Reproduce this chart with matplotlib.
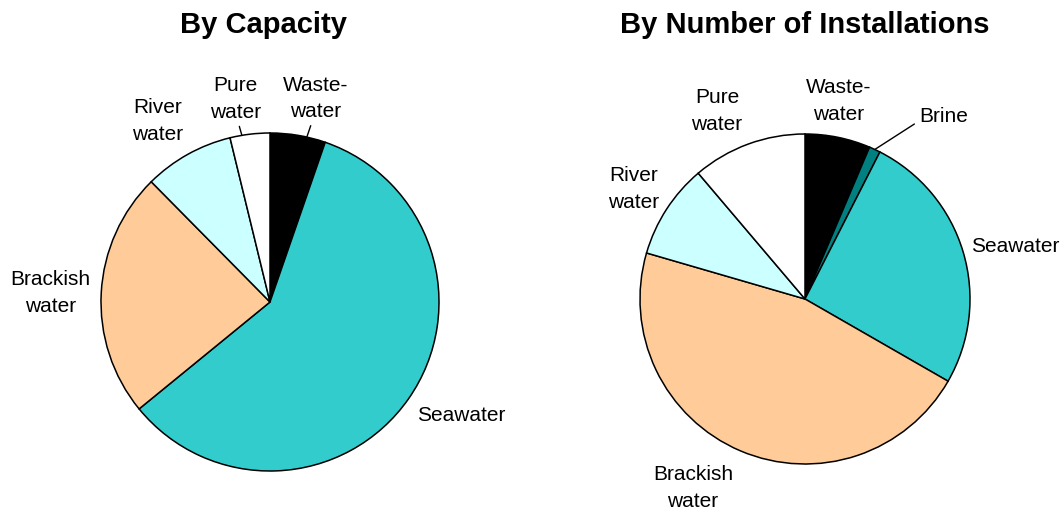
import numpy as np
import matplotlib.pyplot as plt

plt.rcParams["font.family"] = ["Liberation Sans", "DejaVu Sans"]

# data, clockwise from 12 o'clock
cap_labels = ["Waste-\nwater", "Seawater", "Brackish\nwater", "River\nwater", "Pure\nwater"]
cap_values = [5.3, 58.8, 23.5, 8.6, 3.8]

inst_labels = ["Waste-\nwater", "Brine", "Seawater", "Brackish\nwater", "River\nwater", "Pure\nwater"]
inst_values = [6.4, 1.1, 25.8, 46.2, 9.3, 11.2]

colors = {
    "Waste-\nwater": "#000000",
    "Brine": "#008080",
    "Seawater": "#33CCCC",
    "Brackish\nwater": "#FFCC99",
    "River\nwater": "#CCFFFF",
    "Pure\nwater": "#FFFFFF",
}

# label placement (axes data units, pie radius = 1)
cap_text_pos = [(0.27, 1.21), (1.13, -0.665), (-1.30, 0.06), (-0.665, 1.076), (-0.206, 1.206)]
# leader line anchor: fraction through the wedge (clockwise), None = no line
cap_leader = [0.66, None, None, None, 0.3]

inst_text_pos = [(0.206, 1.206), (0.842, 1.115), (1.273, 0.327), (-0.679, -1.139),
                 (-1.036, 0.673), (-0.533, 1.145)]
inst_leader = [None, 0.5, None, None, None, None]

W, H = 1062, 510


def draw_pie(ax, labels, values, text_pos, leader):
    wedges, _ = ax.pie(
        values,
        colors=[colors[l] for l in labels],
        startangle=90,
        counterclock=False,
        radius=1.0,
        wedgeprops=dict(edgecolor="black", linewidth=1.1),
    )
    for w, lab, pos, frac in zip(wedges, labels, text_pos, leader):
        if frac is not None:
            # wedges run clockwise, so theta2 is the start edge
            ang = np.deg2rad(w.theta2 - frac * (w.theta2 - w.theta1))
            ax.annotate(
                lab, xy=(np.cos(ang), np.sin(ang)), xytext=pos,
                ha="center", va="center", fontsize=15, linespacing=1.5,
                arrowprops=dict(arrowstyle="-", color="black", lw=1,
                                shrinkA=2, shrinkB=0,
                                relpos=(0.0 if lab == "Brine" else 0.5, 0.2)),
            )
        else:
            ax.text(pos[0], pos[1], lab, ha="center", va="center",
                    fontsize=15, linespacing=1.5)


fig = plt.figure(figsize=(W / 100, H / 100), dpi=100)

# left pie: center (270, 303) px, radius 169 px
ax1 = fig.add_axes([0, 0, 540 / W, 1])
draw_pie(ax1, cap_labels, cap_values, cap_text_pos, cap_leader)
r1 = 169
ax1.set_xlim(-270 / r1, 270 / r1)
ax1.set_ylim(-(H - 303) / r1, 303 / r1)
ax1.set_aspect("auto")
ax1.axis("off")
fig.text(263 / W, 1 - 25 / H, "By Capacity", ha="center", va="center",
         fontsize=21, fontweight="bold")

# right pie: center (805, 300) px, radius 165 px
ax2 = fig.add_axes([540 / W, 0, 522 / W, 1])
draw_pie(ax2, inst_labels, inst_values, inst_text_pos, inst_leader)
r2 = 165
ax2.set_xlim(-265 / r2, 257 / r2)
ax2.set_ylim(-(H - 300) / r2, 300 / r2)
ax2.set_aspect("auto")
ax2.axis("off")
fig.text(805 / W, 1 - 25 / H, "By Number of Installations", ha="center", va="center",
         fontsize=21, fontweight="bold")

fig.savefig("out.png", dpi=100)
